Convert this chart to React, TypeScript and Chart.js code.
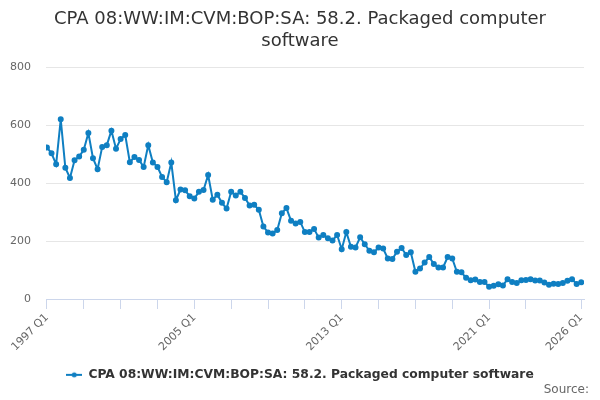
import { Chart, ChartConfiguration, registerables } from "chart.js";
import { useEffect, useRef } from "react";

Chart.register(...registerables);

const titleLines = ["CPA 08:WW:IM:CVM:BOP:SA: 58.2. Packaged computer", "software"];
const seriesName = "CPA 08:WW:IM:CVM:BOP:SA: 58.2. Packaged computer software";

// quarters 1997 Q1 .. 2026 Q1
const quarters: string[] = [];
for (let y = 1997; y <= 2026; y++) {
  for (let q = 1; q <= 4; q++) {
    if (y === 2026 && q > 1) break;
    quarters.push(`${y} Q${q}`);
  }
}

const values = [
  523, 503, 465, 620, 453, 418, 479, 492, 515, 573, 486, 448,
  525, 531, 581, 519, 552, 566, 472, 490, 480, 456, 531, 471,
  456, 421, 403, 471, 341, 378, 375, 355, 347, 370, 376, 428,
  343, 360, 332, 312, 370, 357, 370, 349, 323, 325, 308, 250,
  230, 226, 238, 296, 314, 270, 261, 266, 231, 231, 242, 212,
  221, 210, 202, 221, 172, 231, 180, 178, 213, 189, 167, 161,
  178, 174, 140, 138, 163, 176, 152, 161, 94, 105, 126, 145,
  121, 109, 109, 145, 140, 94, 92, 73, 65, 67, 59, 59,
  42, 46, 51, 47, 68, 59, 55, 65, 66, 68, 64, 64,
  57, 49, 53, 52, 55, 63, 68, 52, 58,
];

const tickIndexes = [0, 8, 16, 24, 32, 40, 48, 56, 64, 72, 80, 88, 96, 104, 116];
const labelIndexes = [0, 32, 64, 96, 116];
const yTicks = [0, 200, 400, 600, 800];

const lineColor = "#0f7fc2";

function legendSymbol() {
  const c = document.createElement("canvas");
  c.width = 16;
  c.height = 8;
  const g = c.getContext("2d")!;
  g.strokeStyle = lineColor;
  g.lineWidth = 2;
  g.beginPath();
  g.moveTo(0, 4);
  g.lineTo(16, 4);
  g.stroke();
  g.fillStyle = lineColor;
  g.beginPath();
  g.arc(8, 4, 2.5, 0, Math.PI * 2);
  g.fill();
  return c;
}

const sourcePlugin = {
  id: "sourceText",
  afterDraw(chart: Chart) {
    const ctx = chart.ctx;
    ctx.save();
    ctx.font = "12px 'DejaVu Sans'";
    ctx.fillStyle = "#666666";
    ctx.textAlign = "right";
    ctx.textBaseline = "alphabetic";
    ctx.fillText("Source:", 589, 393);
    ctx.restore();
  },
};

export default function App() {
  const chartRef = useRef<HTMLCanvasElement>(null);
  const chartInstance = useRef<Chart | null>(null);

  useEffect(() => {
    if (!chartRef.current) return;
    const ctx = chartRef.current.getContext("2d");
    if (!ctx) return;
    Chart.defaults.font.family = "'DejaVu Sans'";
    const symbol = legendSymbol();

    const config: ChartConfiguration = {
      type: "line",
      data: {
        datasets: [
          {
            label: seriesName,
            data: values.map((v, i) => ({ x: i, y: v })),
            borderColor: lineColor,
            backgroundColor: lineColor,
            borderWidth: 2,
            pointRadius: 2,
            pointHoverRadius: 3,
            tension: 0,
          },
        ],
      },
      options: {
        animation: false,
        responsive: true,
        maintainAspectRatio: false,
        layout: { padding: { left: 0, right: 0, top: 0, bottom: 9 } },
        plugins: {
          title: {
            display: true,
            text: titleLines,
            color: "#333333",
            font: { size: 18, weight: "normal" },
            padding: { top: 9, bottom: 15 },
          },
          legend: {
            display: true,
            position: "bottom",
            labels: {
              color: "#333333",
              font: { size: 12.3, weight: "bold" },
              usePointStyle: true,
              boxWidth: 16,
              boxHeight: 8,
              pointStyleWidth: 16,
              padding: 8,
              generateLabels: (chart) =>
                chart.data.datasets.map((ds, i) => ({
                  text: ds.label as string,
                  datasetIndex: i,
                  pointStyle: symbol,
                  fillStyle: lineColor,
                  strokeStyle: lineColor,
                  lineWidth: 0,
                  fontColor: "#333333",
                  hidden: false,
                })),
            },
          },
          tooltip: { enabled: false },
        },
        scales: {
          x: {
            type: "linear",
            min: -0.2,
            max: 116.6,
            afterBuildTicks: (axis) => {
              axis.ticks = tickIndexes.map((v) => ({ value: v }));
            },
            afterFit: (axis) => {
              axis.paddingLeft = 0;
              axis.paddingRight = 16;
              axis.height += 5;
            },
            grid: {
              display: true,
              drawOnChartArea: false,
              drawTicks: true,
              tickLength: 10,
              color: "#ccd6eb",
            },
            border: { display: true, color: "#ccd6eb" },
            ticks: {
              autoSkip: false,
              maxRotation: 45,
              minRotation: 45,
              color: "#666666",
              font: { size: 11 },
              padding: 2,
              callback: (v) => {
                const i = Number(v);
                return labelIndexes.includes(i) ? quarters[i] : "";
              },
            },
          },
          y: {
            min: 0,
            max: 800,
            afterBuildTicks: (axis) => {
              axis.ticks = yTicks.map((v) => ({ value: v }));
            },
            afterFit: (axis) => {
              axis.width = 46;
            },
            grid: { color: "#e6e6e6", drawTicks: false },
            border: { display: false },
            ticks: {
              color: "#666666",
              font: { size: 11 },
              padding: 15,
            },
          },
        },
      },
      plugins: [sourcePlugin],
    };

    chartInstance.current = new Chart(ctx, config);
    return () => {
      chartInstance.current?.destroy();
      chartInstance.current = null;
    };
  }, []);

  return (
    <div style={{ position: "fixed", top: 0, left: 0, width: 600, height: 400, background: "#fff" }}>
      <canvas ref={chartRef}></canvas>
    </div>
  );
}
